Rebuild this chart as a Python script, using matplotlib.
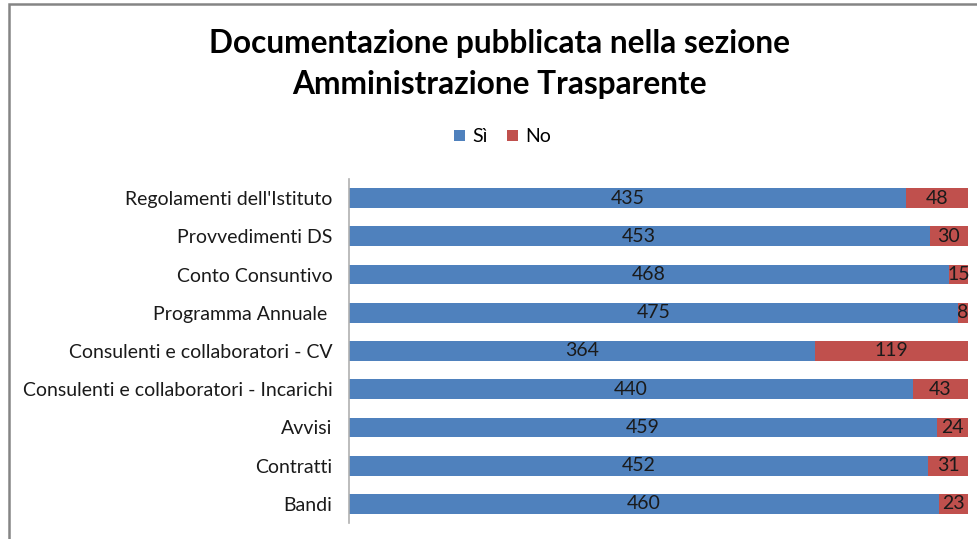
import matplotlib
matplotlib.use("Agg")
import matplotlib.pyplot as plt
from matplotlib.patches import Rectangle
import numpy as np

plt.rcParams["font.family"] = ["Lato", "DejaVu Sans"]

categories = [
    "Regolamenti dell'Istituto",
    "Provvedimenti DS",
    "Conto Consuntivo",
    "Programma Annuale ",
    "Consulenti e collaboratori - CV",
    "Consulenti e collaboratori - Incarichi",
    "Avvisi",
    "Contratti",
    "Bandi",
]
si_values = [435, 453, 468, 475, 364, 440, 459, 452, 460]
no_values = [48, 30, 15, 8, 119, 43, 24, 31, 23]

BLUE = "#4F81BD"
RED = "#C0504D"
TEXT = "#1a1a1a"
FS = 14

fig = plt.figure(figsize=(9.78, 5.39), dpi=100)
ax = fig.add_axes([349 / 978, 1 - 523 / 539, (968 - 349) / 978, 344 / 539])

si = np.array(si_values, dtype=float)
no = np.array(no_values, dtype=float)
total = si + no
si_pct = si / total
no_pct = no / total
y = np.arange(len(categories))

ax.barh(y, si_pct, height=0.52, color=BLUE, label="Sì")
ax.barh(y, no_pct, left=si_pct, height=0.52, color=RED, label="No")

for i in range(len(categories)):
    ax.text(si_pct[i] / 2, y[i], str(si_values[i]), ha="center", va="center",
            fontsize=FS, color=TEXT)
    ax.text(si_pct[i] + no_pct[i] / 2, y[i], str(no_values[i]), ha="center", va="center",
            fontsize=FS, color=TEXT)

ax.set_xlim(0, 1)
ax.set_ylim(len(categories) - 0.5, -0.5)
ax.set_yticks(y)
ax.set_yticklabels(categories, fontsize=FS, color=TEXT)
ax.tick_params(axis="y", length=0, pad=12)
ax.set_xticks([])
for side in ["top", "right", "bottom"]:
    ax.spines[side].set_visible(False)
ax.spines["left"].set_color("#b0b0b0")
ax.spines["left"].set_linewidth(1.2)

fig.text(0.511, 1 - 64 / 539, "Documentazione pubblicata nella sezione\nAmministrazione Trasparente",
         ha="center", va="center", fontsize=22.8, fontweight="bold", linespacing=1.5)

handles, labels = ax.get_legend_handles_labels()
fig.legend(handles, labels, loc="center", bbox_to_anchor=(0.514, 1 - 137 / 539), ncol=2,
           frameon=False, fontsize=FS, handlelength=0.55, handleheight=0.55,
           handletextpad=0.4, columnspacing=1.0)

fig.patches.append(Rectangle((9 / 978, -0.05), 1.1, 1 - 4 / 539 + 0.05, transform=fig.transFigure,
                             fill=False, edgecolor="#858585", linewidth=1.8))

fig.savefig("out.png", dpi=100)
